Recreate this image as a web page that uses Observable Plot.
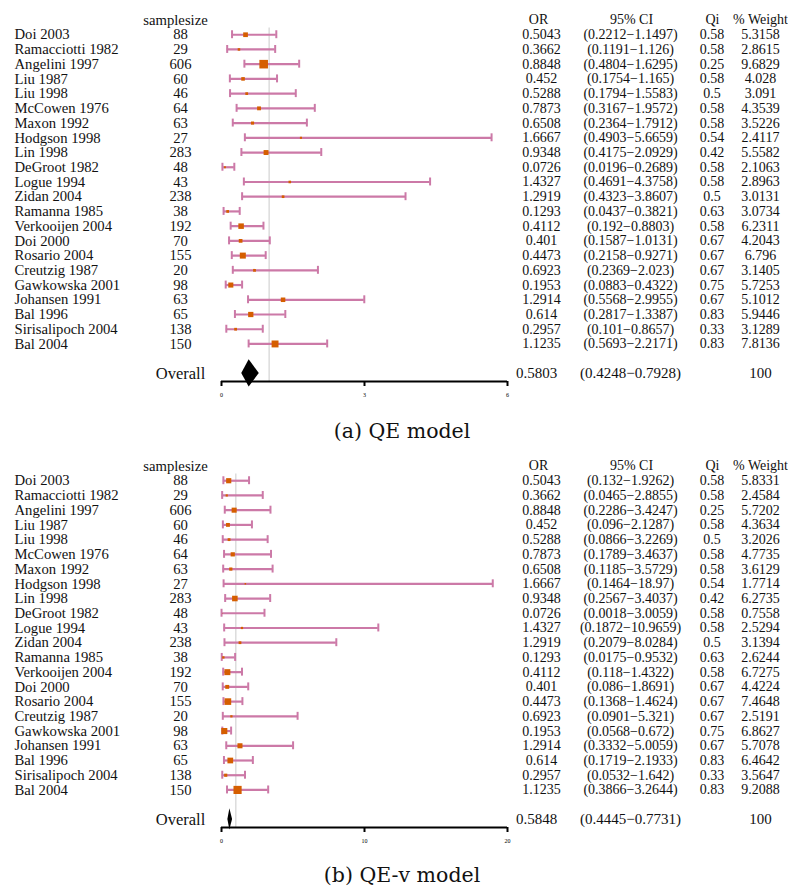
<!DOCTYPE html>
<html>
<head>
<meta charset="utf-8">
<script src="https://cdn.jsdelivr.net/npm/d3@7"></script>
<script src="https://cdn.jsdelivr.net/npm/@observablehq/plot@0.6"></script>
<style>
  html, body { margin: 0; padding: 0; background: #fff; }
  body { width: 788px; height: 886px; position: relative; overflow: hidden; }
  .panel { position: absolute; left: 0; }
  .panel svg, .panel svg text { font-family: "Liberation Serif", serif !important; }
  .cap { position: absolute; left: 402px; transform: translateX(-50%); white-space: nowrap;
         font-family: "DejaVu Serif", serif; font-size: 20.5px; line-height: 20px; color: #111; }
</style>
</head>
<body>
<div id="pa" class="panel" style="top:0px"></div>
<div class="cap" style="top:421px">(a) QE model</div>
<div id="pb" class="panel" style="top:446px"></div>
<div class="cap" style="top:865px">(b) QE-v model</div>
<script>
const studies = ["Doi 2003","Ramacciotti 1982","Angelini 1997","Liu 1987","Liu 1998","McCowen 1976","Maxon 1992","Hodgson 1998","Lin 1998","DeGroot 1982","Logue 1994","Zidan 2004","Ramanna 1985","Verkooijen 2004","Doi 2000","Rosario 2004","Creutzig 1987","Gawkowska 2001","Johansen 1991","Bal 1996","Sirisalipoch 2004","Bal 2004"];
const samplesize = [88,29,606,60,46,64,63,27,283,48,43,238,38,192,70,155,20,98,63,65,138,150];
const oddsRatio = [0.5043,0.3662,0.8848,0.452,0.5288,0.7873,0.6508,1.6667,0.9348,0.0726,1.4327,1.2919,0.1293,0.4112,0.401,0.4473,0.6923,0.1953,1.2914,0.614,0.2957,1.1235];
const qi = [0.58,0.58,0.25,0.58,0.5,0.58,0.58,0.54,0.42,0.58,0.58,0.5,0.63,0.58,0.67,0.67,0.67,0.75,0.67,0.83,0.33,0.83];

const qeLower = [0.2212,0.1191,0.4804,0.1754,0.1794,0.3167,0.2364,0.4903,0.4175,0.0196,0.4691,0.4323,0.0437,0.192,0.1587,0.2158,0.2369,0.0883,0.5568,0.2817,0.101,0.5693];
const qeUpper = [1.1497,1.126,1.6295,1.165,1.5583,1.9572,1.7912,5.6659,2.0929,0.2689,4.3758,3.8607,0.3821,0.8803,1.0131,0.9271,2.023,0.4322,2.9955,1.3387,0.8657,2.2171];
const qeWeight = [5.3158,2.8615,9.6829,4.028,3.091,4.3539,3.5226,2.4117,5.5582,2.1063,2.8963,3.0131,3.0734,6.2311,4.2043,6.796,3.1405,5.7253,5.1012,5.9446,3.1289,7.8136];
const qeOverall = [0.5803, 0.4248, 0.7928, 100];
const qeTicks = [0, 3, 6];

const qevLower = [0.132,0.0465,0.2286,0.096,0.0866,0.1789,0.1185,0.1464,0.2567,0.0018,0.1872,0.2079,0.0175,0.118,0.086,0.1368,0.0901,0.0568,0.3332,0.1719,0.0532,0.3866];
const qevUpper = [1.9262,2.8855,3.4247,2.1287,3.2269,3.4637,3.5729,18.97,3.4037,3.0059,10.9659,8.0284,0.9532,1.4322,1.8691,1.4624,5.321,0.672,5.0059,2.1933,1.642,3.2644];
const qevWeight = [5.8331,2.4584,5.7202,4.3634,3.2026,4.7735,3.6129,1.7714,6.2735,0.7558,2.5294,3.1394,2.6244,6.7275,4.4224,7.4648,2.5191,6.8627,5.7078,6.4642,3.5647,9.2088];
const qevOverall = [0.5848, 0.4445, 0.7731, 100];
const qevTicks = [0, 10, 20];

const headers = ["samplesize", "OR", "95% CI", "Qi", "% Weight"];

const PINK = "#CC79A7", ORANGE = "#D55E00";
const FONT = "Liberation Serif";

function forest(lower, upper, weight, overall, ticks, diamondH) {
  const rows = studies.map((s, i) => ({
    i, study: s, n: String(samplesize[i]), or: String(oddsRatio[i]), orv: oddsRatio[i],
    lo: lower[i], hi: upper[i], wv: weight[i], w: String(weight[i]), qi: String(qi[i]),
    ci: "(" + lower[i] + "\u2212" + upper[i] + ")"
  }));
  const oi = studies.length + 1;      // overall row index
  const axisIdx = oi + 0.55;
  const [oOR, oLo, oHi, oW] = overall;
  const diamond = [
    {y: oi - diamondH, x1: oOR, x2: oOR},
    {y: oi, x1: oLo, x2: oHi},
    {y: oi + diamondH, x1: oOR, x2: oOR}
  ];
  const head = [{i: -1}];
  const ov = [{i: oi}];
  const txt = {fontSize: 14, fill: "#111", fontFamily: FONT, textAnchor: "middle"};
  const left = {...txt, fontSize: 14.7};
  return Plot.plot({
    width: 788, height: 410,
    marginLeft: 221, marginRight: 281, marginTop: 19.5, marginBottom: 29,
    style: {fontFamily: FONT, background: "white", overflow: "visible"},
    x: {domain: [ticks[0], ticks[ticks.length - 1]], axis: null},
    y: {domain: [-1, axisIdx], reverse: true, axis: null},
    r: {type: "linear", domain: [0, 10], range: [0, 5]},
    marks: [
      Plot.ruleX([1], {y1: -0.45, y2: axisIdx, stroke: "#dcdcdc", strokeWidth: 1.5}),
      Plot.ruleY(rows, {y: "i", x1: "lo", x2: "hi", stroke: PINK, strokeWidth: 2.2}),
      Plot.ruleX(rows, {x: "lo", y1: d => d.i - 0.27, y2: d => d.i + 0.27, stroke: PINK, strokeWidth: 2}),
      Plot.ruleX(rows, {x: "hi", y1: d => d.i - 0.27, y2: d => d.i + 0.27, stroke: PINK, strokeWidth: 2}),
      Plot.dot(rows, {x: "orv", y: "i", r: "wv", symbol: "square", fill: ORANGE}),
      Plot.areaX(diamond, {y: "y", x1: "x1", x2: "x2", fill: "black", curve: "linear"}),
      Plot.ruleY([axisIdx], {x1: ticks[0], x2: ticks[ticks.length - 1], stroke: "black", strokeWidth: 2}),
      Plot.axisX({ticks, tickSize: 5, strokeWidth: 2, fontSize: 6, tickPadding: 6, label: null, tickFormat: d => String(d), fontFamily: FONT}),
      // header row
      Plot.text(head, {y: "i", text: () => headers[0], frameAnchor: "left", dx: -46, ...left}),
      Plot.text(head, {y: "i", text: () => headers[1], frameAnchor: "right", dx: 31, ...txt}),
      Plot.text(head, {y: "i", text: () => headers[2], frameAnchor: "right", dx: 124, ...txt}),
      Plot.text(head, {y: "i", text: () => headers[3], frameAnchor: "right", dx: 205, ...txt}),
      Plot.text(head, {y: "i", text: () => headers[4], frameAnchor: "right", dx: 253, ...txt}),
      // study rows
      Plot.text(rows, {y: "i", text: "study", frameAnchor: "left", dx: -207, ...left, textAnchor: "start"}),
      Plot.text(rows, {y: "i", text: "n", frameAnchor: "left", dx: -41, ...left}),
      Plot.text(rows, {y: "i", text: "or", frameAnchor: "right", dx: 34, ...txt}),
      Plot.text(rows, {y: "i", text: "ci", frameAnchor: "right", dx: 123, ...txt}),
      Plot.text(rows, {y: "i", text: "qi", frameAnchor: "right", dx: 204.5, ...txt}),
      Plot.text(rows, {y: "i", text: "w", frameAnchor: "right", dx: 253, ...txt}),
      // overall row
      Plot.text(ov, {y: "i", text: () => "Overall", frameAnchor: "left", dx: -41, ...left, fontSize: 16.5}),
      Plot.text(ov, {y: "i", text: () => String(oOR), frameAnchor: "right", dx: 29, ...txt, fontSize: 15}),
      Plot.text(ov, {y: "i", text: () => "(" + oLo + "\u2212" + oHi + ")", frameAnchor: "right", dx: 123, ...txt, fontSize: 15}),
      Plot.text(ov, {y: "i", text: () => String(oW), frameAnchor: "right", dx: 253, ...txt, fontSize: 15})
    ]
  });
}

document.getElementById("pa").append(forest(qeLower, qeUpper, qeWeight, qeOverall, qeTicks, 0.92));
document.getElementById("pb").append(forest(qevLower, qevUpper, qevWeight, qevOverall, qevTicks, 0.72));
</script>
</body>
</html>
